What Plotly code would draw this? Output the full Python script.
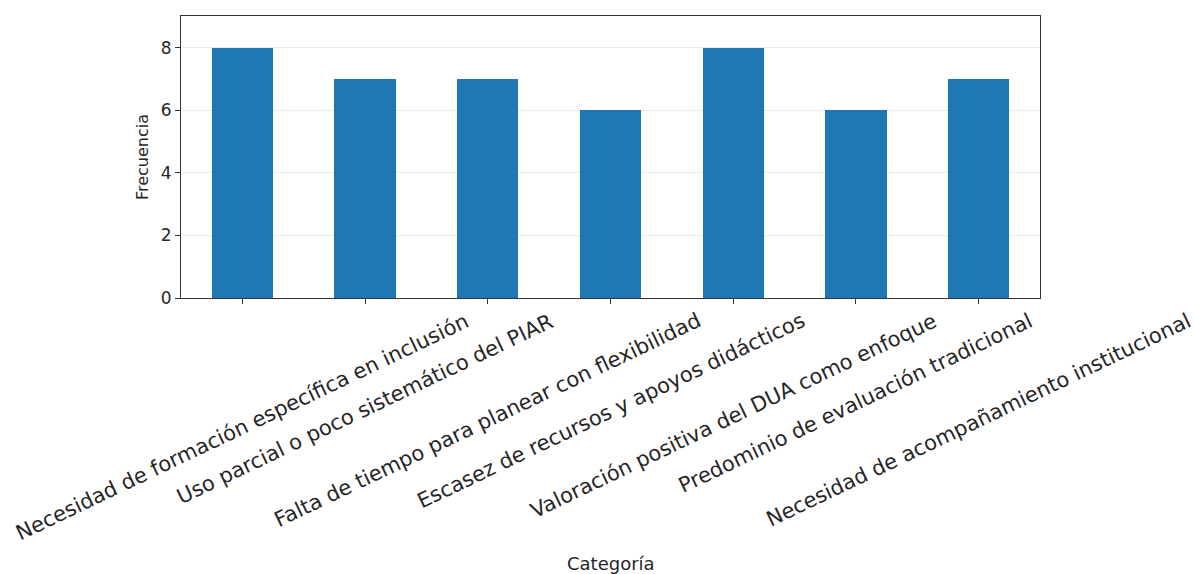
import plotly.graph_objects as go

categorias = [
    "Necesidad de formación específica en inclusión",
    "Uso parcial o poco sistemático del PIAR",
    "Falta de tiempo para planear con flexibilidad",
    "Escasez de recursos y apoyos didácticos",
    "Valoración positiva del DUA como enfoque",
    "Predominio de evaluación tradicional",
    "Necesidad de acompañamiento institucional",
]
frecuencia = [8, 7, 7, 6, 8, 6, 7]
y_ticks = [0, 2, 4, 6, 8]

W, H = 1194, 574
ML, MR, MT, MB = 181, 154, 16, 276
plot_h = H - MT - MB

fig = go.Figure(go.Bar(
    x=list(range(len(categorias))),
    y=frecuencia,
    width=0.5,
    marker=dict(color="#1f77b4", line=dict(width=0)),
))

font = "DejaVu Sans, Liberation Sans, sans-serif"
annotations = []
for i, lab in enumerate(categorias):
    annotations.append(dict(
        x=i, xref="x", y=-8 / plot_h, yref="paper",
        xanchor="center", yanchor="top",
        text=lab, textangle=-25.5, showarrow=False,
        font=dict(family=font, size=21, color="#262626"),
    ))
annotations.append(dict(
    x=0.5, xref="paper", y=-(563 - (H - MB)) / plot_h, yref="paper",
    xanchor="center", yanchor="middle",
    text="Categoría", showarrow=False,
    font=dict(family=font, size=18, color="#262626"),
))

fig.update_layout(
    width=W, height=H,
    margin=dict(l=ML, r=MR, t=MT, b=MB),
    paper_bgcolor="white", plot_bgcolor="white",
    font=dict(family=font, color="#262626"),
    showlegend=False,
    bargap=0,
    annotations=annotations,
)
fig.update_xaxes(
    range=[-0.5, 6.5],
    tickmode="array", tickvals=list(range(len(categorias))),
    showticklabels=False,
    ticks="outside", ticklen=5, tickcolor="#333333",
    showline=True, linecolor="#333333", linewidth=1.2, mirror=True,
    showgrid=False, zeroline=False,
)
fig.update_yaxes(
    range=[0, 9.02],
    tickmode="array", tickvals=y_ticks, ticktext=[str(v) for v in y_ticks],
    tickfont=dict(size=17),
    ticks="outside", ticklen=5, tickcolor="#333333",
    showline=True, linecolor="#333333", linewidth=1.2, mirror=True,
    showgrid=True, gridcolor="rgba(176,176,176,0.25)", gridwidth=1,
    zeroline=False,
    title=dict(text="Frecuencia", font=dict(size=16), standoff=8),
)

fig.write_html("out.html")
